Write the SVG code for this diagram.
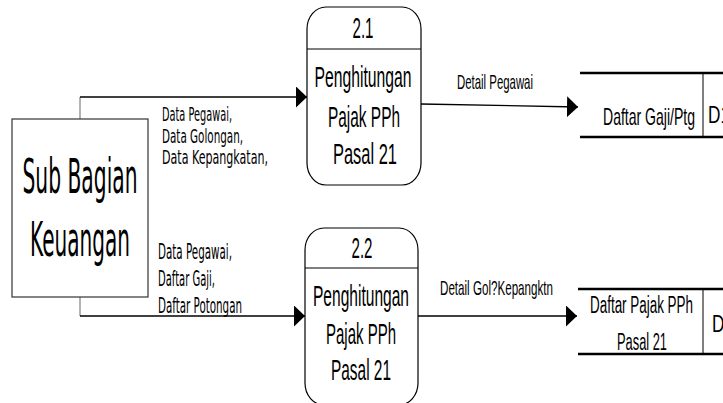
<svg xmlns="http://www.w3.org/2000/svg" width="723" height="403" viewBox="0 0 723 403">
<defs>
<marker id="arr" markerUnits="userSpaceOnUse" markerWidth="11" markerHeight="21" viewBox="0 0 11 21" refX="11" refY="10.5" orient="auto">
<path d="M0,0 L11,10.5 L0,21 z" fill="#000"/>
</marker>
<style>
.proc{fill:#fff;stroke:#000;stroke-width:1.2}
.div{stroke:#000;stroke-width:1.2}
.ent{fill:#fff;stroke:#333;stroke-width:1.2}
.ds{stroke:#000;stroke-width:2.5}
.dsv{stroke:#000;stroke-width:1}
.stub{fill:none;stroke:#8a8a8a;stroke-width:1.3}
.flow{fill:none;stroke:#000;stroke-width:1.3;marker-end:url(#arr)}
.n{font-family:"Liberation Sans",Arial,sans-serif;fill:#000}
.t{font-family:"DejaVu Sans",Tahoma,sans-serif;fill:#000}
</style>
</defs>
<rect width="723" height="403" fill="#fff"/>

<g id="connectors">
<path class="stub" d="M80,119 V97"/>
<path class="flow" d="M80,97 H307"/>
<path class="stub" d="M80,297 V316"/>
<path class="flow" d="M80,316 H305"/>
<path class="flow" d="M421,104 L578,107"/>
<path class="flow" d="M418,316 H577"/>
<g class="t" font-size="20">
<text x="162" y="121" textLength="70" lengthAdjust="spacingAndGlyphs">Data Pegawai,</text>
<text x="162" y="143" textLength="81" lengthAdjust="spacingAndGlyphs">Data Golongan,</text>
<text x="162" y="164" textLength="106" lengthAdjust="spacingAndGlyphs">Data Kepangkatan,</text>
</g>
<g class="t" font-size="21">
<text x="158" y="259" textLength="74" lengthAdjust="spacingAndGlyphs">Data Pegawai,</text>
<text x="158" y="286" textLength="57" lengthAdjust="spacingAndGlyphs">Daftar Gaji,</text>
<text x="158" y="313" textLength="84" lengthAdjust="spacingAndGlyphs">Daftar Potongan</text>
</g>
<text class="n" font-size="21" x="457" y="89" textLength="76" lengthAdjust="spacingAndGlyphs">Detail Pegawai</text>
<text class="n" font-size="21" x="440" y="295" textLength="113" lengthAdjust="spacingAndGlyphs">Detail Gol?Kepangktn</text>
</g>

<g id="sub-bagian-keuangan">
<rect class="ent" x="12" y="119" width="136" height="178"/>
<text class="t" font-size="48" x="80" y="193" text-anchor="middle" textLength="115" lengthAdjust="spacingAndGlyphs">Sub Bagian</text>
<text class="t" font-size="48" x="80" y="256" text-anchor="middle" textLength="100" lengthAdjust="spacingAndGlyphs">Keuangan</text>
</g>

<g id="proc-2-1">
<rect class="proc" x="307" y="7" width="114" height="178" rx="19" ry="22"/>
<line class="div" x1="307" y1="49" x2="421" y2="49"/>
<g class="n" font-size="29" text-anchor="middle">
<text x="363" y="38" textLength="21" lengthAdjust="spacingAndGlyphs">2.1</text>
<text x="363" y="87" textLength="97" lengthAdjust="spacingAndGlyphs">Penghitungan</text>
<text x="364" y="127" textLength="72" lengthAdjust="spacingAndGlyphs">Pajak PPh</text>
<text x="365" y="164" textLength="64" lengthAdjust="spacingAndGlyphs">Pasal 21</text>
</g>
</g>

<g id="proc-2-2">
<rect class="proc" x="305" y="228" width="113" height="177" rx="19" ry="22"/>
<line class="div" x1="305" y1="268" x2="418" y2="268"/>
<g class="n" font-size="29" text-anchor="middle">
<text x="362" y="258" textLength="21" lengthAdjust="spacingAndGlyphs">2.2</text>
<text x="361" y="306" textLength="96" lengthAdjust="spacingAndGlyphs">Penghitungan</text>
<text x="361" y="344" textLength="70" lengthAdjust="spacingAndGlyphs">Pajak PPh</text>
<text x="361" y="380" textLength="60" lengthAdjust="spacingAndGlyphs">Pasal 21</text>
</g>
</g>

<g id="store-d1">
<line class="ds" x1="580" y1="73" x2="723" y2="73"/>
<line class="ds" x1="580" y1="137" x2="723" y2="137"/>
<line class="dsv" x1="703" y1="73" x2="703" y2="137"/>
<text class="n" font-size="24" x="649" y="125" text-anchor="middle" textLength="92" lengthAdjust="spacingAndGlyphs">Daftar Gaji/Ptg</text>
<text class="n" font-size="23" x="708" y="123" textLength="22" lengthAdjust="spacingAndGlyphs">D1</text>
</g>

<g id="store-d2">
<line class="ds" x1="578" y1="289" x2="723" y2="289"/>
<line class="ds" x1="578" y1="354" x2="723" y2="354"/>
<line class="dsv" x1="703" y1="289" x2="703" y2="354"/>
<text class="n" font-size="23" x="641.5" y="313" text-anchor="middle" textLength="103" lengthAdjust="spacingAndGlyphs">Daftar Pajak PPh</text>
<text class="n" font-size="23" x="642" y="350" text-anchor="middle" textLength="50" lengthAdjust="spacingAndGlyphs">Pasal 21</text>
<text class="n" font-size="23" x="712" y="332" textLength="22" lengthAdjust="spacingAndGlyphs">D2</text>
</g>
</svg>
